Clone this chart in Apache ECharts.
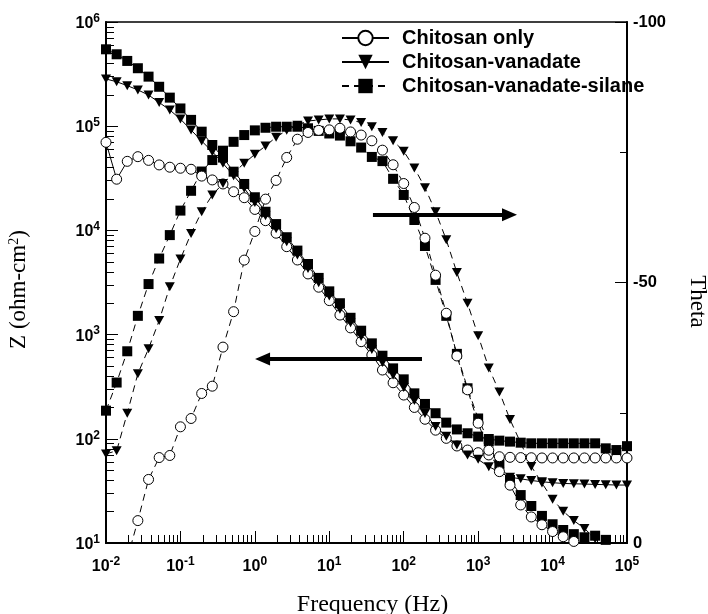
<!DOCTYPE html>
<html>
<head>
<meta charset="utf-8">
<script src="https://cdn.jsdelivr.net/npm/echarts@6/dist/echarts.min.js"></script>
<style>
html, body { margin: 0; padding: 0; background: #fff; }
#chart { width: 708px; height: 614px; }
</style>
</head>
<body>
<div id="chart"></div>
<script>
// Measurement frequencies (Hz), seven points per decade
const freq = [
  0.01, 0.0139, 0.0193, 0.0268, 0.0373, 0.0518, 0.0720,
  0.1, 0.139, 0.193, 0.268, 0.373, 0.518, 0.720,
  1, 1.39, 1.93, 2.68, 3.73, 5.18, 7.20,
  10, 13.9, 19.3, 26.8, 37.3, 51.8, 72.0,
  100, 139, 193, 268, 373, 518, 720,
  1000, 1390, 1930, 2680, 3730, 5180, 7200,
  10000, 13900, 19300, 26800, 37300, 51800, 72000,
  100000
];

// Impedance modulus |Z| (ohm-cm2)
const zOnly = [
  70000, 31000, 46000, 51000, 47000, 42500, 40400,
  39500, 38600, 33200, 30500, 27900, 23500, 20600,
  15900, 12400, 9400, 6980, 5200, 3820, 2850,
  2120, 1540, 1160, 855, 637, 457, 345,
  263, 200, 154, 121, 101, 85.3, 78,
  73.6, 70, 67.3, 66.4, 66, 65.8, 65.5,
  65.5, 65.5, 65.5, 65.5, 65.5, 65.5, 65.5,
  65.5
];
const zVan = [
  284000, 267000, 245000, 223000, 199000, 169000, 143000,
  117000, 92000, 72000, 57000, 44000, 33500, 25400,
  18500, 13800, 10400, 7800, 5800, 4300, 3150,
  2350, 1750, 1300, 960, 720, 540, 410,
  310, 233, 175, 131, 106, 87, 70,
  63.5, 54, 48, 42.8, 41.3, 39.8, 38.7,
  37.9, 37.3, 37, 36.8, 36.5, 36.3, 36,
  36
];
const zSil = [
  547000, 490000, 423000, 360000, 299000, 239000, 188000,
  148000, 115000, 88600, 66000, 50000, 36600, 27900,
  20800, 15100, 11500, 8600, 6400, 4760, 3500,
  2600, 2000, 1450, 1090, 824, 627, 474,
  372, 273, 216, 176, 143, 123, 113,
  105, 99.5, 96, 94, 91.8, 90.5, 90.5,
  90.5, 90.5, 90.5, 90.5, 90.5, 81, 78,
  85
];

// Phase angle theta (degrees)
const thOnly = [
  null, null, 3, -4.3, -12.2, -16.4, -16.8,
  -22.3, -23.9, -28.7, -30.1, -37.6, -44.4, -54.3,
  -59.8, -66.0, -69.6, -74.0, -77.5, -78.8, -79.2,
  -79.3, -79.6, -78.9, -78.3, -77.2, -75.4, -72.6,
  -69.0, -64.4, -58.5, -51.4, -44.1, -35.9, -29.4,
  -23.0, -17.8, -13.7, -11.1, -7.3, -5.0, -3.5,
  -2.2, -1.2, -0.3, null, null, null, null,
  null
];
const thVan = [
  -17.1, -17.7, -24.9, -32.5, -37.3, -42.7, -49.2,
  -54.5, -59.4, -63.6, -66.8, -69.0, -71.0, -72.9,
  -74.6, -76.2, -77.9, -79.2, -80.2, -81.0, -81.2,
  -81.4, -81.4, -81.2, -80.7, -79.9, -78.8, -77.2,
  -75.2, -72.0, -68.2, -63.6, -58.2, -51.9, -46.0,
  -39.8, -33.6, -29.0, -23.7, -19.2, -14.7, -11.5,
  -8.4, -6.1, -4.3, -2.8, -0.8, null, null,
  null
];
const thSil = [
  -25.4, -30.8, -36.8, -43.6, -49.7, -54.6, -59.1,
  -63.8, -67.6, -71.3, -73.5, -75.3, -77.0, -78.3,
  -79.2, -79.7, -79.9, -79.9, -79.9, -79.6, -79.1,
  -78.6, -78.2, -77.1, -75.9, -74.1, -73.3, -69.9,
  -66.8, -62.0, -57.0, -50.5, -43.6, -36.3, -29.7,
  -23.9, -19.5, -15.1, -12.1, -9.2, -7.1, -5.2,
  -3.6, -2.5, -1.7, -1.1, -1.4, -0.6, null,
  null
];

const seriesNames = ['Chitosan only', 'Chitosan-vanadate', 'Chitosan-vanadate-silane'];

// Axis ticks
const zDecades = [10, 100, 1000, 10000, 100000, 1000000];
const fDecades = [0.01, 0.1, 1, 10, 100, 1000, 10000, 100000];
const thetaLabelled = [-100, -50, 0];
const thetaShort = [-75, -25];

// Annotation arrows: [frequency, value] start and end points
const arrowZ = [[176, 583], [1.27, 583]];
const arrowTheta = [[38.6, -63], [2640, -63]];

// Tick marks are drawn on exponent-space helper axes laid over the main grid
function minorTicks(decades) {
  const out = [];
  decades.slice(0, -1).forEach(d => {
    for (let m = 2; m <= 9; m++) out.push(m * d);
  });
  return out;
}
const exp10 = arr => arr.map(v => Math.log10(v));
const fMajorExp = exp10(fDecades);
const fMinorExp = exp10(minorTicks(fDecades));
const zMajorExp = exp10(zDecades);
const zMinorExp = exp10(minorTicks(zDecades));

const SANS = 'Liberation Sans, Arial, sans-serif';
const SERIF = 'Liberation Serif, Times New Roman, serif';

const powRich = {
  b: { fontFamily: SANS, fontWeight: 'bold', fontSize: 16, color: '#000', lineHeight: 19, verticalAlign: 'bottom' },
  s: { fontFamily: SANS, fontWeight: 'bold', fontSize: 12, color: '#000', lineHeight: 11, verticalAlign: 'top' }
};
const powLabel = v => '{b|10}{s|' + Math.round(Math.log10(v)) + '}';

const pairs = arr => freq.map((f, i) => [f, arr[i]]);

const openCircle = { color: '#fff', borderColor: '#000', borderWidth: 1 };
const solid = { color: '#000', width: 1, type: 'solid' };
const dashed = { color: '#000', width: 1, type: [7, 5] };
const tickLine = { color: '#000', width: 1 };

function arrowLine(pts) {
  return {
    silent: true,
    animation: false,
    label: { show: false },
    lineStyle: { color: '#000', width: 4, type: 'solid' },
    emphasis: { disabled: true },
    data: [[
      { coord: pts[0], symbol: 'none' },
      { coord: pts[1], symbol: 'triangle', symbolSize: [13, 15] }
    ]]
  };
}

function tickAxis(gridIndex, position, min, max, values, length) {
  return {
    type: 'value', gridIndex, position, min, max,
    axisLine: { show: false, onZero: false },
    axisTick: { show: true, inside: true, length, customValues: values, lineStyle: tickLine },
    axisLabel: { show: false },
    splitLine: { show: false }
  };
}

const gridRect = { left: 106, right: 81, top: 22, bottom: 71, containLabel: false, outerBoundsMode: 'none' };
const baseSeries = { type: 'line', animation: false, emphasis: { disabled: true }, z: 3 };

const chart = echarts.init(document.getElementById('chart'), null, { renderer: 'canvas' });
chart.setOption({
  backgroundColor: '#fff',
  animation: false,
  grid: [
    Object.assign({ show: true, borderColor: '#000', borderWidth: 1.5, backgroundColor: 'transparent' }, gridRect),
    Object.assign({ show: false }, gridRect),
    Object.assign({ show: false }, gridRect)
  ],
  legend: {
    orient: 'vertical',
    left: 341,
    top: 28,
    padding: 0,
    itemWidth: 47,
    itemHeight: 18,
    itemGap: 4,
    data: seriesNames,
    formatter: name => '{t|' + name + '}',
    textStyle: {
      rich: { t: { fontFamily: SANS, fontWeight: 'bold', fontSize: 20, color: '#000', lineHeight: 20, padding: [0, 0, 0, 8] } }
    },
    selectedMode: false
  },
  xAxis: [
    {
      type: 'log', logBase: 10, gridIndex: 0, position: 'bottom', min: 0.01, max: 100000,
      name: 'Frequency (Hz)', nameLocation: 'middle', nameGap: 50,
      nameTextStyle: { fontFamily: SERIF, fontSize: 24, color: '#000', padding: [0, 0, 0, 12] },
      axisLine: { show: true, onZero: false, lineStyle: { color: '#000', width: 2 } },
      axisTick: { show: false },
      axisLabel: { show: true, customValues: fDecades, margin: 13, formatter: powLabel, rich: powRich },
      splitLine: { show: false }
    },
    tickAxis(1, 'bottom', -2, 5, fMajorExp, 12),
    tickAxis(2, 'bottom', -2, 5, fMinorExp, 8)
  ],
  yAxis: [
    {
      type: 'log', logBase: 10, gridIndex: 0, position: 'left', min: 10, max: 1000000,
      name: 'Z (ohm-cm{s|2})', nameLocation: 'middle', nameGap: 76,
      nameTextStyle: {
        fontFamily: SERIF, fontSize: 23, color: '#000', lineHeight: 23, padding: [0, 14, 0, 0],
        rich: { s: { fontFamily: SERIF, fontSize: 14, color: '#000', lineHeight: 14, verticalAlign: 'top' } }
      },
      axisLine: { show: true, onZero: false, lineStyle: { color: '#000', width: 2 } },
      axisTick: { show: false },
      axisLabel: { show: true, customValues: zDecades, margin: 6, formatter: powLabel, rich: powRich },
      splitLine: { show: false }
    },
    {
      type: 'value', gridIndex: 0, position: 'right', min: -100, max: 0, inverse: true,
      name: 'Theta', nameLocation: 'middle', nameGap: 59, nameRotate: -90,
      nameTextStyle: { fontFamily: SERIF, fontSize: 23, color: '#000', padding: [0, 0, 0, 38] },
      axisLine: { show: true, onZero: false, lineStyle: { color: '#000', width: 2 } },
      axisTick: { show: true, inside: true, length: 12, customValues: thetaLabelled, lineStyle: tickLine },
      axisLabel: { show: true, customValues: thetaLabelled, margin: 6, fontFamily: SANS, fontWeight: 'bold', fontSize: 16.5, color: '#000' },
      splitLine: { show: false }
    },
    tickAxis(1, 'left', 1, 6, zMajorExp, 12),
    Object.assign(tickAxis(1, 'right', -100, 0, thetaShort, 7), { inverse: true }),
    tickAxis(2, 'left', 1, 6, zMinorExp, 8)
  ],
  series: [
    Object.assign({}, baseSeries, {
      name: seriesNames[2], xAxisIndex: 0, yAxisIndex: 1, data: pairs(thSil),
      symbol: 'rect', symbolSize: 10, itemStyle: { color: '#000' }, lineStyle: dashed,
      markLine: arrowLine(arrowTheta)
    }),
    Object.assign({}, baseSeries, {
      name: seriesNames[0], xAxisIndex: 0, yAxisIndex: 0, data: pairs(zOnly),
      symbol: 'circle', symbolSize: 10, itemStyle: openCircle, lineStyle: solid
    }),
    Object.assign({}, baseSeries, {
      name: seriesNames[1], xAxisIndex: 0, yAxisIndex: 0, data: pairs(zVan),
      symbol: 'triangle', symbolRotate: 180, symbolSize: [10, 9], itemStyle: { color: '#000' }, lineStyle: solid
    }),
    Object.assign({}, baseSeries, {
      name: seriesNames[2], xAxisIndex: 0, yAxisIndex: 0, data: pairs(zSil),
      symbol: 'rect', symbolSize: 10, itemStyle: { color: '#000' }, lineStyle: solid,
      markLine: arrowLine(arrowZ)
    }),
    Object.assign({}, baseSeries, {
      name: seriesNames[0], xAxisIndex: 0, yAxisIndex: 1, data: pairs(thOnly),
      symbol: 'circle', symbolSize: 10, itemStyle: openCircle, lineStyle: dashed
    }),
    Object.assign({}, baseSeries, {
      name: seriesNames[1], xAxisIndex: 0, yAxisIndex: 1, data: pairs(thVan),
      symbol: 'triangle', symbolRotate: 180, symbolSize: [10, 9], itemStyle: { color: '#000' }, lineStyle: dashed
    })
  ]
});
</script>
</body>
</html>
